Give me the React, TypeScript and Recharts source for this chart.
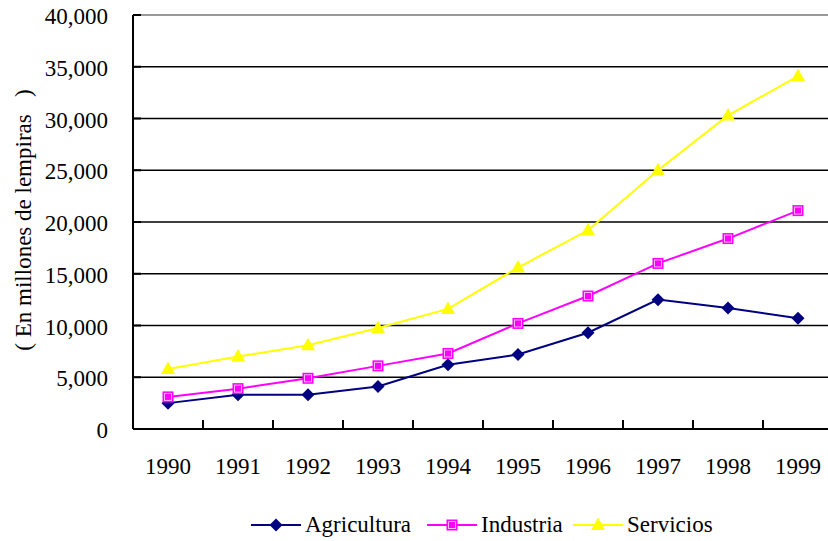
import React from 'react';
import { LineChart, Line, XAxis, YAxis, CartesianGrid, Legend, ReferenceLine, Label } from 'recharts';

const years = ['1990', '1991', '1992', '1993', '1994', '1995', '1996', '1997', '1998', '1999'];
const agricultura = [2500, 3300, 3300, 4100, 6200, 7200, 9300, 12500, 11700, 10700];
const industria = [3100, 3900, 4900, 6100, 7300, 10200, 12850, 16000, 18400, 21100];
const servicios = [5800, 7000, 8100, 9750, 11600, 15600, 19200, 25000, 30300, 34100];
const yTicks = [0, 5000, 10000, 15000, 20000, 25000, 30000, 35000, 40000];

const data = years.map((year, i) => ({
  year,
  Agricultura: agricultura[i],
  Industria: industria[i],
  Servicios: servicios[i],
}));

const FONT = 'Liberation Serif';
const NAVY = '#000080';
const MAGENTA = '#FF00FF';
const YELLOW = '#FFFF00';

// marker shapes, shared by the lines and the legend
const diamond = (cx: number, cy: number) => (
  <path d={`M${cx},${cy - 6.5} L${cx + 6.5},${cy} L${cx},${cy + 6.5} L${cx - 6.5},${cy} Z`} fill={NAVY} />
);
const square = (cx: number, cy: number) => (
  <g>
    <rect x={cx - 5.5} y={cy - 5.5} width={11} height={11} fill={MAGENTA} />
    <rect x={cx - 3.5} y={cy - 3.5} width={7} height={7} fill="none" stroke="#ffb0ff" strokeWidth={1} />
  </g>
);
const triangle = (cx: number, cy: number) => (
  <path d={`M${cx},${cy - 7.5} L${cx + 7},${cy + 5} L${cx - 7},${cy + 5} Z`} fill={YELLOW} />
);

const markers: Record<string, (cx: number, cy: number) => React.ReactElement> = {
  Agricultura: diamond,
  Industria: square,
  Servicios: triangle,
};

const dotFor = (name: string) => (props: any) => {
  const { cx, cy, index } = props;
  if (cx == null || cy == null) return <g key={`${name}-${index}`} />;
  return <g key={`${name}-${index}`}>{markers[name](cx, cy)}</g>;
};

const XTick = (props: any) => {
  const { x, y, payload } = props;
  return (
    <g>
      <line x1={x + 35} x2={x + 35} y1={y - 9} y2={y} stroke="#000" strokeWidth={2} />
      <text x={x} y={y + 45} textAnchor="middle" style={{ fontFamily: FONT, fontSize: 23 }} fill="#000">
        {payload.value}
      </text>
    </g>
  );
};

const YTick = (props: any) => {
  const { x, y, payload } = props;
  return (
    <g>
      <line x1={x} x2={x + 8} y1={y} y2={y} stroke="#000" strokeWidth={2} />
      <text x={x - 25} y={y + 9} textAnchor="end" style={{ fontFamily: FONT, fontSize: 23 }} fill="#000">
        {Number(payload.value).toLocaleString('en-US')}
      </text>
    </g>
  );
};

const legendLefts = [251, 427, 573];

const LegendContent = (props: any) => {
  const { payload = [] } = props;
  return (
    <div style={{ position: 'relative', height: 30, width: 833 }}>
      {payload.map((entry: any, i: number) => (
        <div
          key={entry.value}
          style={{
            position: 'absolute',
            left: legendLefts[i],
            top: 0,
            height: 30,
            display: 'flex',
            alignItems: 'center',
            fontFamily: FONT,
            fontSize: 23,
            color: '#000',
            whiteSpace: 'nowrap',
          }}
        >
          <svg width={50} height={20} style={{ marginRight: 4 }}>
            <line x1={0} x2={50} y1={10} y2={10} stroke={entry.color} strokeWidth={2} />
            {markers[entry.value](25, 10)}
          </svg>
          <span>{entry.value}</span>
        </div>
      ))}
    </div>
  );
};

const App = () => {
  return (
    <div style={{ position: 'absolute', left: 0, top: 0, width: 828, height: 541, overflow: 'hidden', background: '#fff' }}>
      <LineChart width={833} height={541} data={data} margin={{ top: 15, right: 0, left: 0, bottom: 22 }}>
        <CartesianGrid vertical={false} stroke="#000" strokeWidth={1.6} />
        <ReferenceLine y={40000} stroke="#999" strokeWidth={2} />
        <XAxis
          dataKey="year"
          height={60}
          padding={{ left: 35, right: 35 }}
          tickLine={false}
          tickSize={0}
          tickMargin={0}
          axisLine={{ stroke: '#000', strokeWidth: 2 }}
          tick={XTick}
          interval={0}
        />
        <YAxis
          width={133}
          domain={[0, 40000]}
          ticks={yTicks}
          tickLine={false}
          tickSize={0}
          tickMargin={0}
          axisLine={{ stroke: '#000', strokeWidth: 2 }}
          tick={YTick}
          interval={0}
        >
          <Label
            content={() => (
              <text
                transform="translate(23,220) rotate(-90)"
                textAnchor="middle"
                dominantBaseline="central"
                fill="#000"
                style={{ whiteSpace: 'pre', fontFamily: FONT, fontSize: 23 }}
              >
                {'( En millones de lempiras   )'}
              </text>
            )}
          />
        </YAxis>
        <Legend verticalAlign="bottom" content={LegendContent} wrapperStyle={{ left: 0, bottom: 1, width: 833 }} />
        <Line dataKey="Agricultura" stroke={NAVY} strokeWidth={2} dot={dotFor('Agricultura')} activeDot={false} isAnimationActive={false} />
        <Line dataKey="Industria" stroke={MAGENTA} strokeWidth={2} dot={dotFor('Industria')} activeDot={false} isAnimationActive={false} />
        <Line dataKey="Servicios" stroke={YELLOW} strokeWidth={2} dot={dotFor('Servicios')} activeDot={false} isAnimationActive={false} />
      </LineChart>
    </div>
  );
};

export default App;
